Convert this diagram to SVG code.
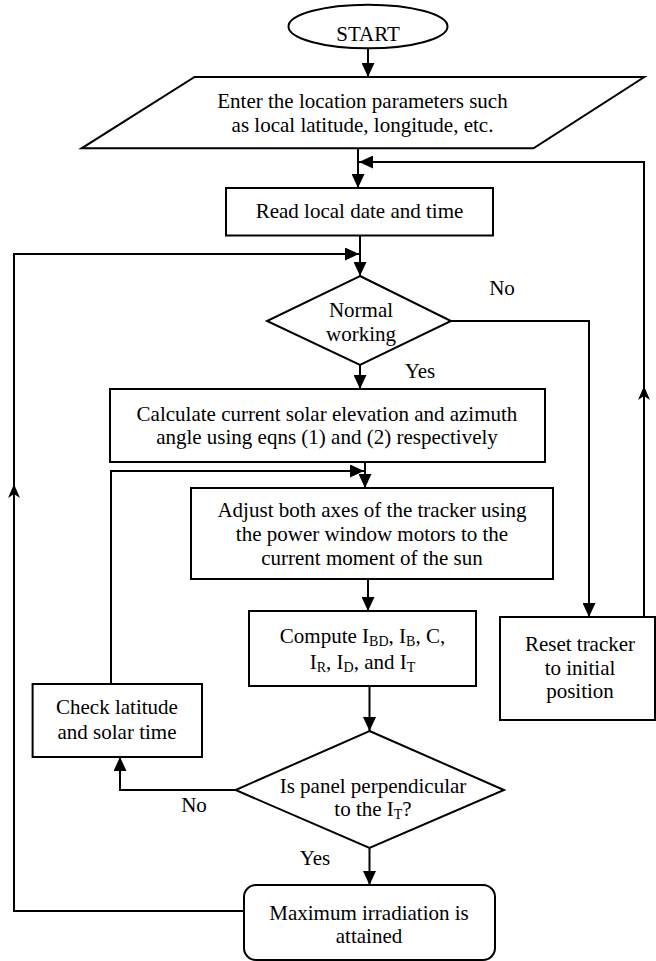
<svg xmlns="http://www.w3.org/2000/svg" width="656" height="961" viewBox="0 0 656 961">
  <defs>
    <style>
      .shape { fill: #fff; stroke: #000; stroke-width: 2; }
      .conn { fill: none; stroke: #000; stroke-width: 2; }
      text { font-family: 'Liberation Serif', 'DejaVu Serif', serif; font-size: 21px; fill: #000; text-anchor: middle; }
      .sub { font-size: 14px; }
      .head { fill: #000; stroke: none; }
    </style>
    <marker id="arr" markerUnits="userSpaceOnUse" markerWidth="14" markerHeight="13" refX="14" refY="6.5" orient="auto">
      <path d="M0,0 L14,6.5 L0,13 z" fill="#000"/>
    </marker>
  </defs>

  <rect x="0" y="0" width="656" height="961" fill="#fff"/>

  <g id="connectors">
    <path class="conn" d="M368,48.5 V77" marker-end="url(#arr)"/>
    <path class="conn" d="M358,148 V188" marker-end="url(#arr)"/>
    <path class="conn" d="M644,617 V162 H359" marker-end="url(#arr)"/>
    <path class="head" d="M644,386 L650,400 L644,396 L638,400 z"/>
    <path class="conn" d="M360,236 V276" marker-end="url(#arr)"/>
    <path class="conn" d="M244,911 H14 V254 H359" marker-end="url(#arr)"/>
    <path class="head" d="M14,484 L20,498 L14,494 L8,498 z"/>
    <path class="conn" d="M451,321 H589 V617" marker-end="url(#arr)"/>
    <path class="conn" d="M360,365 V389" marker-end="url(#arr)"/>
    <path class="conn" d="M365,462 V488" marker-end="url(#arr)"/>
    <path class="conn" d="M111,684 V471 H364" marker-end="url(#arr)"/>
    <path class="conn" d="M368,579 V611" marker-end="url(#arr)"/>
    <path class="conn" d="M369.5,686 V731" marker-end="url(#arr)"/>
    <path class="conn" d="M235.6,790 H120 V757" marker-end="url(#arr)"/>
    <path class="conn" d="M369.5,848 V885" marker-end="url(#arr)"/>
    <text font-family="Liberation Serif, serif" x="502" y="295">No</text>
    <text font-family="Liberation Serif, serif" x="420" y="378">Yes</text>
    <text font-family="Liberation Serif, serif" x="194" y="812">No</text>
    <text font-family="Liberation Serif, serif" x="315" y="865">Yes</text>
  </g>

  <g id="start">
    <ellipse class="shape" cx="368" cy="26.5" rx="79.5" ry="21.8"/>
    <text x="368" y="41">START</text>
  </g>

  <g id="input">
    <polygon class="shape" points="194.6,77 644.3,77 533.5,148.3 81.6,148.3"/>
    <text x="362.5" y="107.5">Enter the location parameters such</text>
    <text x="362.5" y="131.5">as local latitude, longitude, etc.</text>
  </g>

  <g id="read">
    <rect class="shape" x="226" y="188" width="267" height="47.5"/>
    <text x="359.5" y="218">Read local date and time</text>
  </g>

  <g id="normal">
    <polygon class="shape" points="360,276 451,321 360,365 267,321"/>
    <text x="361" y="317">Normal</text>
    <text x="361" y="341">working</text>
  </g>

  <g id="calc">
    <rect class="shape" x="110" y="389" width="435" height="73"/>
    <text x="327" y="421">Calculate current solar elevation and azimuth</text>
    <text x="327" y="444">angle using eqns (1) and (2) respectively</text>
  </g>

  <g id="adjust">
    <rect class="shape" x="191" y="488" width="362" height="91"/>
    <text x="372" y="517">Adjust both axes of the tracker using</text>
    <text x="372" y="541">the power window motors to the</text>
    <text x="372" y="565">current moment of the sun</text>
  </g>

  <g id="compute">
    <rect class="shape" x="249" y="611" width="227" height="75"/>
    <text x="362.5" y="643">Compute I<tspan class="sub" dy="3">BD</tspan><tspan dy="-3">, I</tspan><tspan class="sub" dy="3">B</tspan><tspan dy="-3">, C,</tspan></text>
    <text x="362.5" y="669">I<tspan class="sub" dy="3">R</tspan><tspan dy="-3">, I</tspan><tspan class="sub" dy="3">D</tspan><tspan dy="-3">, and I</tspan><tspan class="sub" dy="3">T</tspan></text>
  </g>

  <g id="reset">
    <rect class="shape" x="500" y="617" width="155" height="103"/>
    <text x="580" y="651">Reset tracker</text>
    <text x="580" y="675">to initial</text>
    <text x="580" y="698">position</text>
  </g>

  <g id="check">
    <rect class="shape" x="32.6" y="684" width="169.4" height="73"/>
    <text x="117" y="714">Check latitude</text>
    <text x="117" y="739">and solar time</text>
  </g>

  <g id="perpendicular">
    <polygon class="shape" points="369.5,731 504,790 369.5,848 235.6,790"/>
    <text x="373" y="793">Is panel perpendicular</text>
    <text x="373" y="816">to the I<tspan class="sub" dy="3">T</tspan><tspan dy="-3">?</tspan></text>
  </g>

  <g id="maximum">
    <rect class="shape" x="244" y="885" width="251" height="75" rx="12" ry="12"/>
    <text x="369" y="920">Maximum irradiation is</text>
    <text x="369" y="943">attained</text>
  </g>
</svg>
